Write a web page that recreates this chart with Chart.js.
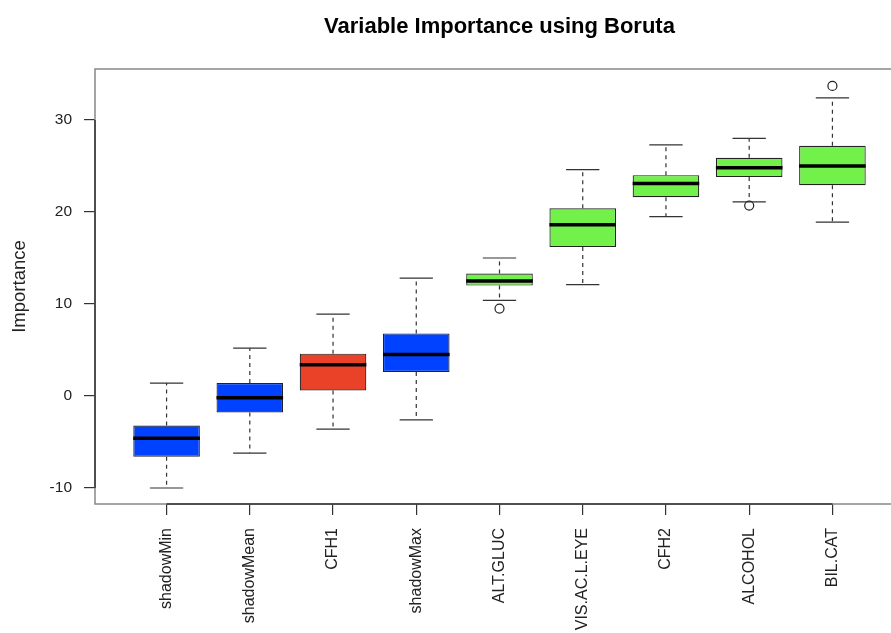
<!DOCTYPE html>
<html lang="en">
  <head>
    <meta charset="utf-8" />
    <title>Variable Importance using Boruta</title>
    <style>
      * {
        margin: 0;
        padding: 0;
      }
      body {
        background: white;
        overflow: hidden;
      }
    </style>
  </head>
  <body>
    <canvas id="myChart" width="910" height="633"></canvas>

    <script src="https://cdn.jsdelivr.net/npm/chart.js"></script>

    <script>
      const categories = ["shadowMin", "shadowMean", "CFH1", "shadowMax", "ALT.GLUC", "VIS.AC.L.EYE", "CFH2", "ALCOHOL", "BIL.CAT"];
      const lowerWhisker = [-10.0, -6.2, -3.6, -2.6, 10.4, 12.1, 19.5, 21.1, 18.9];
      const q1 = [-6.6, -1.8, 0.6, 2.6, 12.0, 16.2, 21.6, 23.8, 22.9];
      const median = [-4.6, -0.2, 3.4, 4.5, 12.5, 18.6, 23.1, 24.8, 25.0];
      const q3 = [-3.2, 1.4, 4.6, 6.8, 13.3, 20.4, 24.0, 25.9, 27.2];
      const upperWhisker = [1.4, 5.2, 8.9, 12.8, 15.0, 24.6, 27.3, 28.0, 32.4];
      const decision = ["shadow", "shadow", "rejected", "shadow", "confirmed", "confirmed", "confirmed", "confirmed", "confirmed"];
      const outlierCategory = ["ALT.GLUC", "ALCOHOL", "BIL.CAT"];
      const outlierValue = [9.5, 20.7, 33.7];
      const yTicks = [-10, 0, 10, 20, 30];

      const colours = { shadow: "#0042ff", rejected: "#ea4129", confirmed: "#72f14b" };
      const fontName = "'Liberation Sans', Arial, sans-serif";

      const boxData = categories.map((c, i) => ({ x: i + 1, y: [q1[i], q3[i]] }));
      const outlierData = outlierCategory.map((c, i) => ({ x: categories.indexOf(c) + 1, y: outlierValue[i] }));

      const boxExtras = {
        id: "boxExtras",
        afterDatasetsDraw(chart) {
          const { ctx, scales: { x, y } } = chart;
          ctx.save();
          for (let i = 0; i < categories.length; i++) {
            const cx = x.getPixelForValue(i + 1);
            const capHalf = x.getPixelForValue(i + 1.2) - cx;
            const boxHalf = x.getPixelForValue(i + 1.4) - cx;

            // whiskers
            ctx.strokeStyle = "#333";
            ctx.lineWidth = 1.2;
            ctx.setLineDash([4, 4]);
            ctx.beginPath();
            ctx.moveTo(cx, y.getPixelForValue(q3[i]));
            ctx.lineTo(cx, y.getPixelForValue(upperWhisker[i]));
            ctx.moveTo(cx, y.getPixelForValue(q1[i]));
            ctx.lineTo(cx, y.getPixelForValue(lowerWhisker[i]));
            ctx.stroke();

            // caps
            ctx.setLineDash([]);
            ctx.beginPath();
            ctx.moveTo(cx - capHalf, y.getPixelForValue(upperWhisker[i]));
            ctx.lineTo(cx + capHalf, y.getPixelForValue(upperWhisker[i]));
            ctx.moveTo(cx - capHalf, y.getPixelForValue(lowerWhisker[i]));
            ctx.lineTo(cx + capHalf, y.getPixelForValue(lowerWhisker[i]));
            ctx.stroke();

            // median
            ctx.strokeStyle = "black";
            ctx.lineWidth = 3.5;
            ctx.beginPath();
            ctx.moveTo(cx - boxHalf, y.getPixelForValue(median[i]));
            ctx.lineTo(cx + boxHalf, y.getPixelForValue(median[i]));
            ctx.stroke();
          }
          ctx.restore();
        },
        afterDraw(chart) {
          const { ctx, chartArea, scales: { x, y } } = chart;
          ctx.save();
          // frame round the plot region
          ctx.strokeStyle = "#888";
          ctx.lineWidth = 1.5;
          ctx.strokeRect(chartArea.left, chartArea.top, chartArea.right - chartArea.left, chartArea.bottom - chartArea.top);
          // axis lines only between first and last tick, like R
          ctx.strokeStyle = "#333";
          ctx.beginPath();
          ctx.moveTo(chartArea.left, y.getPixelForValue(yTicks[0]));
          ctx.lineTo(chartArea.left, y.getPixelForValue(yTicks[yTicks.length - 1]));
          ctx.moveTo(x.getPixelForValue(1), chartArea.bottom);
          ctx.lineTo(x.getPixelForValue(categories.length), chartArea.bottom);
          ctx.stroke();
          // title
          ctx.font = "bold 22px " + fontName;
          ctx.fillStyle = "black";
          ctx.textAlign = "center";
          ctx.textBaseline = "alphabetic";
          ctx.fillText("Variable Importance using Boruta", (chartArea.left + chartArea.right) / 2, 33);
          ctx.restore();
        },
      };

      const config = {
        type: "bar",
        data: {
          datasets: [
            {
              type: "line",
              label: "outliers",
              data: outlierData,
              showLine: false,
              pointStyle: "circle",
              pointRadius: 4.5,
              pointBorderWidth: 1.2,
              pointBackgroundColor: "white",
              pointBorderColor: "#222",
              order: 0,
            },
            {
              label: "Importance",
              data: boxData,
              backgroundColor: decision.map((d) => colours[d]),
              borderColor: "#222",
              borderWidth: 1.2,
              borderSkipped: false,
              barPercentage: 0.8,
              categoryPercentage: 1,
              order: 1,
            },
          ],
        },
        options: {
          responsive: false,
          animation: false,
          devicePixelRatio: 1,
          layout: { padding: { top: 69, right: 6, left: 0, bottom: 0 } },
          plugins: {
            legend: { display: false },
            tooltip: { enabled: false },
          },
          scales: {
            x: {
              type: "linear",
              min: 0.14,
              max: 9.86,
              offset: false,
              afterBuildTicks: (scale) => {
                scale.ticks = categories.map((c, i) => ({ value: i + 1 }));
              },
              afterFit: (scale) => {
                scale.height = 129;
              },
              grid: { offset: false, drawOnChartArea: false, tickLength: 11, color: "#333", lineWidth: 1.2 },
              border: { display: false },
              ticks: {
                autoSkip: false,
                minRotation: 90,
                maxRotation: 90,
                padding: 13,
                color: "#222",
                font: { family: fontName, size: 16 },
                callback: (v) => categories[v - 1],
              },
            },
            y: {
              min: -11.74,
              max: 35.54,
              afterBuildTicks: (scale) => {
                scale.ticks = yTicks.map((v) => ({ value: v }));
              },
              afterFit: (scale) => {
                scale.width = 95;
              },
              grid: { drawOnChartArea: false, tickLength: 11, color: "#333", lineWidth: 1.2 },
              border: { display: false },
              ticks: {
                padding: 12,
                color: "#222",
                font: { family: fontName, size: 15.5 },
              },
              title: {
                display: true,
                text: "Importance",
                color: "#222",
                font: { family: fontName, size: 18.5 },
                padding: { top: 9, bottom: 0 },
              },
            },
          },
        },
        plugins: [boxExtras],
      };

      const myChart = new Chart(document.getElementById("myChart"), config);
    </script>
  </body>
</html>
